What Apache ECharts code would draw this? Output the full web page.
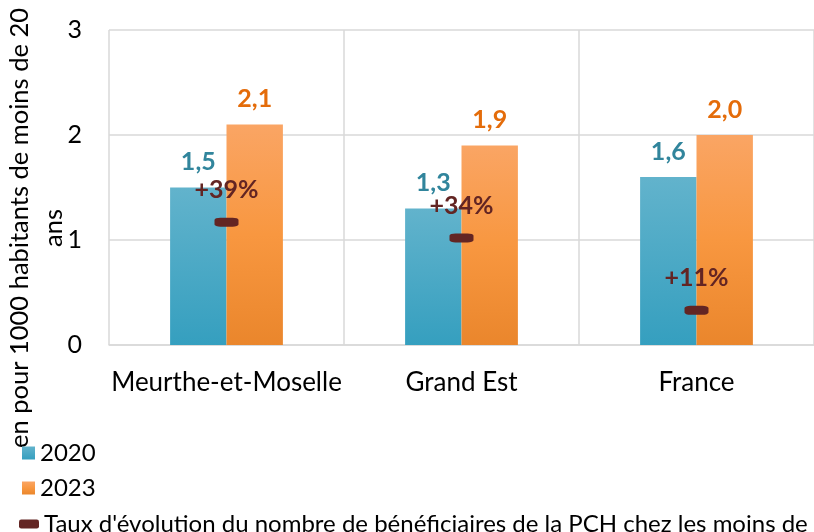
<!DOCTYPE html>
<html>
<head>
<meta charset="utf-8">
<script src="https://cdn.jsdelivr.net/npm/echarts@6/dist/echarts.min.js"></script>
<style>html,body{margin:0;padding:0;background:#fff;}#c{width:814px;height:532px;}</style>
</head>
<body>
<div id="c"></div>
<script>
const categories = ['Meurthe-et-Moselle', 'Grand Est', 'France'];
const values2020 = [1.5, 1.3, 1.6];
const values2023 = [2.1, 1.9, 2.0];
const evolution = [0.39, 0.34, 0.11];
const yTicks = [0, 1, 2, 3];
const seriesNames = ['2020', '2023', "Taux d'évolution du nombre de bénéficiaires de la PCH chez les moins de 20 ans"];
const yTitle = 'en pour 1000 habitants de moins de 20\nans';

const FONT = 'Lato, "Open Sans", sans-serif';
const chart = echarts.init(document.getElementById('c'), null, {renderer: 'canvas'});
const comma = v => v.toFixed(1).replace('.', ',');

chart.setOption({
  animation: false,
  textStyle: {fontFamily: FONT},
  grid: {left: 109, top: 30, right: -3, bottom: 187, containLabel: false},
  graphic: [{
    type: 'text', x: 37, y: 228, rotation: Math.PI / 2,
    style: {text: yTitle, align: 'center', verticalAlign: 'middle', fontFamily: FONT, fontSize: 25.5, lineHeight: 34, fill: '#000'}
  }],
  legend: [
    {data: [{name: seriesNames[0], icon: 'rect'}], orient: 'vertical', left: 17, top: 436, itemWidth: 13, itemHeight: 13,
     textStyle: {fontFamily: FONT, fontSize: 24, color: '#000'}},
    {data: [{name: seriesNames[1], icon: 'rect'}], orient: 'vertical', left: 17, top: 471, itemWidth: 13, itemHeight: 13,
     textStyle: {fontFamily: FONT, fontSize: 24, color: '#000'}},
    {data: [{name: seriesNames[2], icon: 'roundRect', itemStyle: {opacity: 1}}], orient: 'vertical', left: 14, top: 507, itemWidth: 20, itemHeight: 9,
     textStyle: {fontFamily: FONT, fontSize: 24, color: '#000'}}
  ],
  xAxis: {
    type: 'category', data: categories, boundaryGap: true,
    axisLine: {lineStyle: {color: '#d9d9d9', width: 1.5}},
    axisTick: {show: false},
    splitLine: {show: true, interval: 0, lineStyle: {color: '#d9d9d9', width: 1.5}},
    axisLabel: {interval: 0, color: '#000', fontFamily: FONT, fontSize: 26, margin: 25}
  },
  yAxis: [
    {type: 'value', min: yTicks[0], max: yTicks[yTicks.length - 1], interval: 1,
     axisLine: {show: false}, axisTick: {show: false},
     splitLine: {lineStyle: {color: '#d9d9d9', width: 1.5}},
     axisLabel: {color: '#000', fontFamily: FONT, fontSize: 25, margin: 27}},
    {type: 'value', min: 0, max: 1, show: false, splitLine: {show: false}}
  ],
  series: [
    {name: seriesNames[0], type: 'bar', data: values2020, barWidth: '24%', barGap: '0%',
     itemStyle: {color: new echarts.graphic.LinearGradient(0, 0, 0, 1, [
       {offset: 0, color: '#62b3cc'}, {offset: 1, color: '#359fbf'}])},
     label: {show: true, position: 'top', distance: 13, formatter: p => comma(p.value),
       color: '#31859c', fontFamily: FONT, fontWeight: 'bold', fontSize: 25}},
    {name: seriesNames[1], type: 'bar', data: values2023, barWidth: '24%', barGap: '0%',
     itemStyle: {color: new echarts.graphic.LinearGradient(0, 0, 0, 1, [
       {offset: 0, color: '#faa564'}, {offset: 0.5, color: '#f89740'}, {offset: 1, color: '#ea862c'}])},
     label: {show: true, position: 'top', distance: 13, formatter: p => comma(p.value),
       color: '#e46c0a', fontFamily: FONT, fontWeight: 'bold', fontSize: 25}},
    {name: seriesNames[2], type: 'scatter', yAxisIndex: 1, data: evolution,
     symbol: 'roundRect', symbolSize: [24, 9], z: 5,
     itemStyle: {color: '#632523', opacity: 1},
     label: {show: true, position: 'top', distance: 15, formatter: p => '+' + Math.round(p.value * 100) + '%',
       color: '#632523', fontFamily: FONT, fontWeight: 'bold', fontSize: 25}}
  ]
});
</script>
</body>
</html>
